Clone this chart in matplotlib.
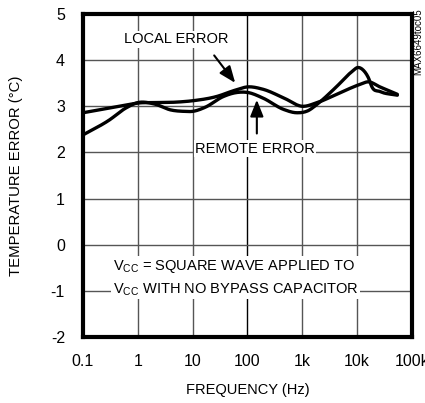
import matplotlib
matplotlib.use("Agg")
import matplotlib.pyplot as plt
import numpy as np
from matplotlib import font_manager

fams = {f.name for f in font_manager.fontManager.ttflist}
FONT = ['Liberation Sans Narrow', 'DejaVu Sans'] if 'Liberation Sans Narrow' in fams else ['Liberation Sans', 'DejaVu Sans']
plt.rcParams['font.family'] = FONT
plt.rcParams['axes.unicode_minus'] = False

# Curve 1 (smoother)
freq_a = [0.1, 0.3, 0.7, 1, 2, 5, 10, 27, 60, 100, 190, 460, 1000, 1860, 5000, 11000, 16000, 26000, 54000]
err_a = [2.86, 2.96, 3.04, 3.07, 3.08, 3.09, 3.12, 3.21, 3.35, 3.42, 3.37, 3.18, 3.0, 3.08, 3.3, 3.47, 3.53, 3.42, 3.26]
# Curve 2 (wavy)
freq_b = [0.1, 0.3, 0.6, 1, 2, 4, 7, 10, 17, 36, 65, 100, 190, 460, 790, 1300, 1800, 4000, 8000, 10300, 13000, 16000, 18600, 26000, 54000]
err_b = [2.38, 2.7, 2.96, 3.08, 3.05, 2.92, 2.89, 2.89, 2.98, 3.21, 3.30, 3.30, 3.18, 2.93, 2.86, 2.91, 3.03, 3.4, 3.75, 3.84, 3.78, 3.62, 3.42, 3.32, 3.24]

xticks = [0.1, 1, 10, 100, 1000, 10000, 100000]
xticklabels = ['0.1', '1', '10', '100', '1k', '10k', '100k']
yticks = [-2, -1, 0, 1, 2, 3, 4, 5]

fig = plt.figure(figsize=(4.25, 4.03), dpi=100)
ax = fig.add_axes([83/425, 66/403, 329/425, 323/403])
ax.set_xscale('log')
ax.set_xlim(0.1, 100000)
ax.set_ylim(-2, 5)

for xv in xticks[1:-1]:
    ax.axvline(xv, color='#555555' if xv != 100 else 'black', lw=1.0, zorder=1)
for yv in yticks[1:-1]:
    ax.axhline(yv, color='#555555', lw=1.0, zorder=1)

def smooth(f, e):
    lf = np.log10(f)
    xs = np.linspace(lf[0], lf[-1], 400)
    e = np.asarray(e); lf = np.asarray(lf)
    m = np.gradient(e, lf)
    ys = np.empty_like(xs)
    for i, x in enumerate(xs):
        k = min(np.searchsorted(lf, x) - 1, len(lf) - 2)
        k = max(k, 0)
        h = lf[k+1] - lf[k]
        t = (x - lf[k]) / h
        h00 = 2*t**3 - 3*t**2 + 1; h10 = t**3 - 2*t**2 + t
        h01 = -2*t**3 + 3*t**2; h11 = t**3 - t**2
        ys[i] = h00*e[k] + h10*h*m[k] + h01*e[k+1] + h11*h*m[k+1]
    return 10**xs, ys

xa, ya = smooth(freq_a, err_a)
xb, yb = smooth(freq_b, err_b)
ax.plot(xa, ya, color='black', lw=2.4, zorder=3, solid_capstyle='round')
ax.plot(xb, yb, color='black', lw=2.4, zorder=3, solid_capstyle='round')

for s in ax.spines.values():
    s.set_linewidth(3)
ax.set_xticks(xticks)
ax.set_xticklabels(xticklabels)
ax.set_yticks(yticks)
ax.tick_params(length=0, labelsize=11.5)
ax.tick_params(axis='x', pad=12)
ax.tick_params(axis='y', pad=13)
ax.minorticks_off()
ax.set_xticks([], minor=True)
ax.set_xlabel('FREQUENCY (Hz)', fontsize=10.5, labelpad=10)
ax.set_ylabel('TEMPERATURE ERROR (°C)', fontsize=10.7, labelpad=20)

FS = 10.5
bbox = dict(facecolor='white', edgecolor='none', pad=1)
ax.text(0.56, 4.45, 'LOCAL ERROR', fontsize=FS, ha='left', va='center', zorder=5, bbox=bbox)
ax.annotate('', xy=(64, 3.46), xytext=(23, 4.15),
            arrowprops=dict(arrowstyle='-|>,head_width=0.4,head_length=1.0', color='black', lw=1.5), zorder=5)
ax.text(137, 2.08, 'REMOTE ERROR', fontsize=FS, ha='center', va='center', zorder=5, bbox=bbox)
ax.annotate('', xy=(148, 3.2), xytext=(148, 2.35),
            arrowprops=dict(arrowstyle='-|>,head_width=0.4,head_length=1.0', color='black', lw=1.5), zorder=5)
ax.text(0.35, -0.72, 'V$_{\\mathregular{CC}}$ = SQUARE WAVE APPLIED TO\nV$_{\\mathregular{CC}}$ WITH NO BYPASS CAPACITOR',
        fontsize=FS, ha='left', va='center', zorder=5, linespacing=1.5, bbox=bbox)

fig.text(418/425, 1 - 42/403, 'MAX6649toc05', rotation=90, fontsize=7, ha='center', va='center')

fig.savefig('out.png', dpi=100)
